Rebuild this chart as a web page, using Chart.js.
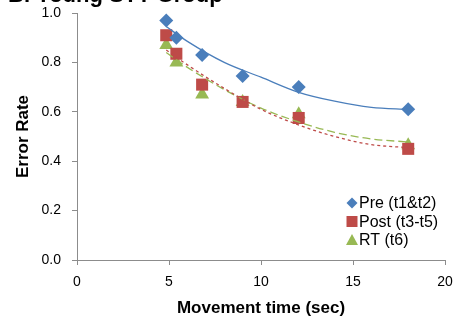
<!DOCTYPE html>
<html>
<head>
<meta charset="utf-8">
<script src="https://cdn.jsdelivr.net/npm/chart.js@4.4.1/dist/chart.umd.min.js"></script>
<style>
  html, body { margin: 0; padding: 0; background: #fff; }
  #wrap { width: 457px; height: 323px; position: relative; }
</style>
</head>
<body>
<div id="wrap"><canvas id="c" width="457" height="323"></canvas></div>
<script>
// movement time (sec) for each target condition
const moveTime = [4.85, 5.4, 6.8, 9.0, 12.05, 18.0];
const preRate = [0.97, 0.90, 0.83, 0.745, 0.70, 0.61];
const postRate = [0.91, 0.835, 0.71, 0.64, 0.575, 0.45];
const rtRate = [0.87, 0.80, 0.67, 0.64, 0.59, 0.465];

// trendlines
const trendX = [4.85, 6, 8, 10, 12, 14, 16, 18];
const preTrend = [0.945, 0.885, 0.80, 0.74, 0.68, 0.643, 0.618, 0.61];
const postTrend = [0.85, 0.79, 0.695, 0.61, 0.548, 0.50, 0.467, 0.455];
const rtTrend = [0.84, 0.78, 0.69, 0.615, 0.56, 0.517, 0.49, 0.478];

const xTicks = [0, 5, 10, 15, 20];
const yTicks = [0, 0.2, 0.4, 0.6, 0.8, 1.0];

const BLUE = '#4A7EBB', RED = '#BE4B48', GREEN = '#98B954';
const FONT = 'Liberation Sans, Arial, sans-serif';

function pts(xs, ys) {
  return xs.map((x, i) => ({ x: x, y: ys[i] }));
}

function trend(label, ys, color, dash) {
  return {
    label: label,
    data: pts(trendX, ys),
    showLine: true,
    borderColor: color,
    borderWidth: 1.3,
    borderDash: dash,
    pointRadius: 0,
    cubicInterpolationMode: 'monotone',
    isTrend: true
  };
}

// title sits above the canvas edge, only its bottom shows
const titlePlugin = {
  id: 'cutTitle',
  afterDraw(chart) {
    const ctx = chart.ctx;
    ctx.save();
    ctx.fillStyle = '#000';
    ctx.font = 'bold 22px ' + FONT;
    ctx.textBaseline = 'alphabetic';
    ctx.fillText('B. Young STT Group', 8, 2);
    ctx.restore();
  }
};

// legend in the lower right of the plot
const legendPlugin = {
  id: 'innerLegend',
  afterDraw(chart) {
    const ctx = chart.ctx;
    const rows = chart.data.datasets.filter(d => !d.isTrend);
    ctx.save();
    ctx.font = '16px ' + FONT;
    ctx.textBaseline = 'middle';
    rows.forEach((d, i) => {
      const y = 203 + i * 18.5;
      ctx.fillStyle = d.backgroundColor;
      ctx.beginPath();
      if (d.pointStyle === 'rectRot') {
        ctx.moveTo(352, y - 5.5); ctx.lineTo(357.5, y); ctx.lineTo(352, y + 5.5); ctx.lineTo(346.5, y);
      } else if (d.pointStyle === 'rect') {
        ctx.rect(346.5, y - 5.5, 11, 11);
      } else {
        ctx.moveTo(352, y - 6); ctx.lineTo(358, y + 5); ctx.lineTo(346, y + 5);
      }
      ctx.closePath();
      ctx.fill();
      ctx.fillStyle = '#000';
      ctx.fillText(d.label, 359, y + 1);
    });
    ctx.restore();
  }
};

new Chart(document.getElementById('c'), {
  type: 'scatter',
  data: {
    datasets: [
      trend('Pre trend', preTrend, BLUE, []),
      trend('Post trend', postTrend, RED, [3, 3]),
      trend('RT trend', rtTrend, GREEN, [8, 4]),
      {
        label: 'Pre (t1&t2)', data: pts(moveTime, preRate),
        pointStyle: 'rectRot', pointRadius: 7, backgroundColor: BLUE, borderWidth: 0
      },
      {
        label: 'Post (t3-t5)', data: pts(moveTime, postRate),
        pointStyle: 'rect', pointRadius: 8.5, backgroundColor: RED, borderWidth: 0
      },
      {
        label: 'RT (t6)', data: pts(moveTime, rtRate),
        pointStyle: 'triangle', pointRadius: 8, backgroundColor: GREEN, borderWidth: 0
      }
    ]
  },
  options: {
    responsive: false,
    animation: false,
    layout: { padding: { left: 0, right: 12, top: 13, bottom: 0 } },
    plugins: { legend: { display: false }, tooltip: { enabled: false } },
    scales: {
      x: {
        type: 'linear', min: 0, max: 20,
        afterBuildTicks: s => { s.ticks = xTicks.map(v => ({ value: v })); },
        afterFit: s => { s.height = 63; s.paddingLeft = 0; s.paddingRight = 0; },
        border: { color: '#8c8c8c', width: 1 },
        grid: { drawOnChartArea: false, drawTicks: true, tickLength: 5, color: '#8c8c8c' },
        ticks: { color: '#000', font: { family: FONT, size: 14 }, padding: 9 },
        title: {
          display: true, text: 'Movement time (sec)', color: '#000',
          font: { family: FONT, size: 17, weight: 'bold' }, padding: { top: 2, bottom: 4 }
        }
      },
      y: {
        type: 'linear', min: 0, max: 1,
        afterBuildTicks: s => { s.ticks = yTicks.map(v => ({ value: v })); },
        afterFit: s => { s.width = 77; s.paddingTop = 0; s.paddingBottom = 0; },
        border: { color: '#8c8c8c', width: 1 },
        grid: { drawOnChartArea: false, drawTicks: true, tickLength: 5, color: '#8c8c8c' },
        ticks: {
          color: '#000', font: { family: FONT, size: 14 }, padding: 11,
          callback: v => v.toFixed(1)
        },
        title: {
          display: true, text: 'Error Rate', color: '#000',
          font: { family: FONT, size: 17, weight: 'bold' }, padding: { top: 13, bottom: 4 }
        }
      }
    }
  },
  plugins: [titlePlugin, legendPlugin]
});
</script>
</body>
</html>
